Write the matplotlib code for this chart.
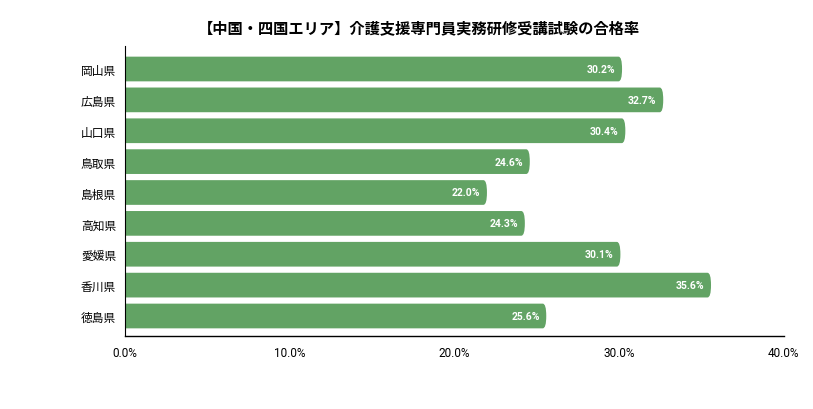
import matplotlib
matplotlib.use("Agg")
import matplotlib.pyplot as plt
from matplotlib.patches import FancyBboxPatch

prefectures = ["岡山県", "広島県", "山口県", "鳥取県", "島根県", "高知県", "愛媛県", "香川県", "徳島県"]
rates = [30.2, 32.7, 30.4, 24.6, 22.0, 24.3, 30.1, 35.6, 25.6]
xticks = [0, 10, 20, 30, 40]
title = "【中国・四国エリア】介護支援専門員実務研修受講試験の合格率"

plt.rcParams['font.family'] = ['Roboto', 'Noto Sans CJK JP', 'DejaVu Sans']
color = "#62a364"

fig = plt.figure(figsize=(8.13, 4.10), dpi=100)
ax_w = 659
ax = fig.add_axes([124.5/813, (410-337)/410, ax_w/813, (337-47)/410])

n = len(prefectures)
ys = list(range(n))
ax.set_xlim(0, 40)
ax.set_ylim(n - 1 + 0.648, -0.745)

h = 0.8
bars = ax.barh(ys, rates, height=h, color=color, alpha=0)
px_per_x = ax_w / 40
px_per_y = 30.875
aspect = px_per_x / px_per_y
r = 3.5 / px_per_x
for b in bars:
    x0, y0 = b.get_x(), b.get_y()
    w, hh = b.get_width(), b.get_height()
    p = FancyBboxPatch((x0 - 2 * r, y0), w + 2 * r, hh,
                       boxstyle=f"round,pad=0,rounding_size={r}",
                       mutation_aspect=1/aspect, facecolor=color, edgecolor='none')
    ax.add_patch(p)
    ax.text(x0 + w - 0.4, y0 + hh / 2, f"{w:.1f}%", ha='right', va='center',
            color='white', fontsize=7.5, fontweight='bold')

ax.set_yticks(ys)
ax.set_yticklabels(prefectures, fontsize=8.5, family=['Noto Sans CJK JP', 'DejaVu Sans'])
ax.set_xticks(xticks)
ax.set_xticklabels([f"{v:.1f}%" for v in xticks], fontsize=8.5)
ax.tick_params(axis='both', length=0)
ax.tick_params(axis='y', pad=6)
ax.tick_params(axis='x', pad=7)
for s in ['top', 'right']:
    ax.spines[s].set_visible(False)
ax.spines['left'].set_color('black')
ax.spines['bottom'].set_color('black')
ax.spines['left'].set_linewidth(0.8)
ax.spines['bottom'].set_linewidth(1.0)
ax.spines['left'].set_zorder(3)

fig.text(419/813, 1 - 28/410, title, ha='center', va='center', fontsize=11,
         fontweight='bold', family=['Noto Sans CJK JP', 'DejaVu Sans'])

fig.savefig("out.png", dpi=100)
